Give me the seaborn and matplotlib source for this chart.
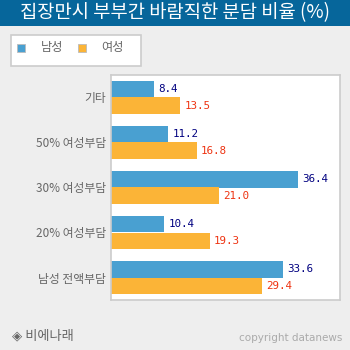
import numpy as np
import pandas as pd
import matplotlib
matplotlib.use("Agg")
import matplotlib.pyplot as plt
from matplotlib.patches import Rectangle
import seaborn as sns

# Survey answers: preferred split of home-buying costs between spouses (%)
categories = ["기타", "50% 여성부담", "30% 여성부담", "20% 여성부담", "남성 전액부담"]
male = [8.4, 11.2, 36.4, 10.4, 33.6]
female = [13.5, 16.8, 21.0, 19.3, 29.4]
series = ["남성", "여성"]

title = "집장만시 부부간 바람직한 분담 비율 (%)"
source = "◈ 비에나래"
credit = "copyright datanews"

df = pd.DataFrame({
    "category": categories * 2,
    "value": male + female,
    "sex": [series[0]] * len(categories) + [series[1]] * len(categories),
})

sns.set_style("white")
plt.rcParams["font.family"] = ["Noto Sans CJK KR", "DejaVu Sans"]

BG = "#eeeeee"
palette = {series[0]: "#49a0d1", series[1]: "#fbb437"}

fig = plt.figure(figsize=(3.5, 3.5), dpi=100, facecolor=BG)
W = H = 350.0
ax = fig.add_axes([110.7 / W, 50 / H, 229.6 / W, 225 / H])
ax.set_facecolor("white")

sns.barplot(data=df, y="category", x="value", hue="sex", hue_order=series,
            order=categories, orient="h", palette=palette, saturation=1,
            width=0.733, linewidth=0, ax=ax)

ax.set_xlim(0, 44.7)
ax.set_xlabel("")
ax.set_ylabel("")
ax.set_xticks([])
ax.tick_params(axis="y", which="major", length=0, pad=3.5,
               labelcolor="#666666", labelsize=8.5)
ax.set_yticks(np.arange(0.5, len(categories) - 1), minor=True)
ax.tick_params(axis="y", which="minor", direction="in", length=3.2,
               width=1, color="#999999")
for sp in ax.spines.values():
    sp.set_visible(True)
    sp.set_color("#cccccc")
    sp.set_linewidth(1.2)

for cont, col in zip(ax.containers, ["#000080", "#ee3311"]):
    ax.bar_label(cont, fmt="%.1f", padding=3, color=col, fontsize=7.8,
                 family="DejaVu Sans Mono")

if ax.get_legend() is not None:
    ax.get_legend().remove()

# title bar
fig.patches.append(Rectangle((0, 1 - 26 / H), 1, 26 / H, transform=fig.transFigure,
                             facecolor="#06669b", edgecolor="none", zorder=0))
fig.text(0.5, 1 - 13 / H, title, color="white", fontsize=13.5,
         ha="center", va="center", fontweight="medium")

# legend box
fig.patches.append(Rectangle((10.5 / W, 1 - 66 / H), 130 / W, 31 / H,
                             transform=fig.transFigure, facecolor="white",
                             edgecolor="#cccccc", linewidth=1.2, zorder=1))
for i, name in enumerate(series):
    x0 = [17.3, 77.7][i]
    fig.patches.append(Rectangle((x0 / W, 1 - 52 / H), 8 / W, 8 / H,
                                 transform=fig.transFigure,
                                 facecolor=palette[name], edgecolor="#bbbbbb",
                                 linewidth=0.6, zorder=2))
    fig.text([41, 101][i] / W, 1 - 48 / H, name, color="#666666",
             fontsize=8.8, ha="left", va="center", zorder=3)

# footer
fig.text(12 / W, 14 / H, source, color="#666666", fontsize=9.5,
         ha="left", va="center")
fig.text(342 / W, 12 / H, credit, color="#aaaaaa", fontsize=7.5,
         ha="right", va="center", family="DejaVu Sans")

fig.savefig("out.png", dpi=100, facecolor=BG)
